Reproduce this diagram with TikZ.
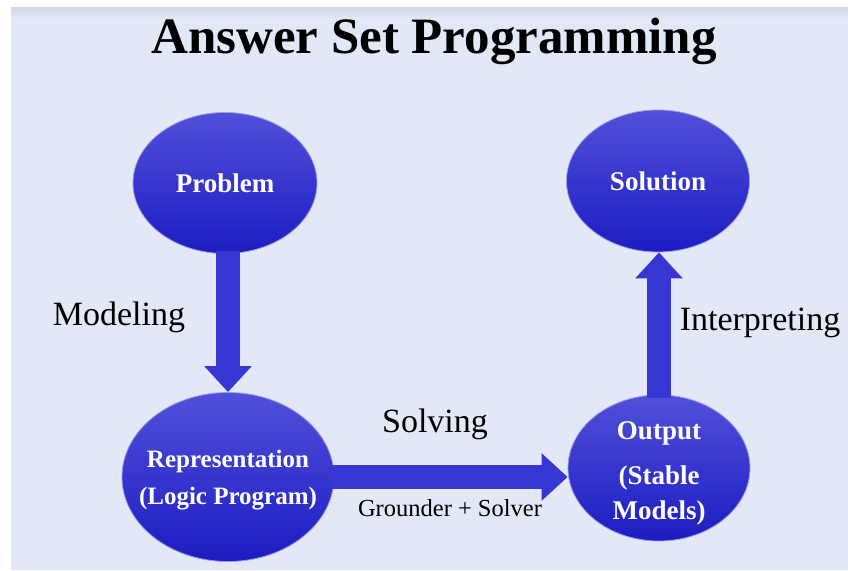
\documentclass[tikz,border=0pt]{standalone}
\usepackage{fontspec}
\setmainfont{Liberation Serif}
\usetikzlibrary{shapes.geometric,arrows.meta}

\definecolor{slidebg}{HTML}{E3E8F6}
\definecolor{slideshade}{HTML}{D3D7E4}
\definecolor{balltop}{HTML}{5050DA}
\definecolor{ballbottom}{HTML}{1C1CC2}
\definecolor{ballrim}{HTML}{9A9AEA}
\definecolor{flowblue}{HTML}{3636D2}

\begin{document}
\begin{tikzpicture}[x=1pt,y=-1pt,
    ball/.style={ellipse,inner sep=0pt,top color=balltop,bottom color=ballbottom,
        draw=ballrim,line width=0.8pt},
    balltext/.style={text=white,align=center,inner sep=0pt,
        font=\fontsize{27}{35}\selectfont\bfseries},
    flow/.style={draw=flowblue,line width=24pt,
        -{Triangle[width=46pt,length=26pt]}},
    lbl/.style={anchor=base,font=\fontsize{34}{40}\selectfont}]
    \useasboundingbox (0,0) rectangle (848,570);
    % slide background
    \fill[slidebg] (11,7) rectangle (848,570);
    \shade[top color=slideshade,bottom color=slidebg] (11,7) rectangle (848,18);
    \node[anchor=base,font=\fontsize{51}{60}\selectfont\bfseries] (title) at (434,53) {Answer Set Programming};
    % the four steps
    \node[ball,minimum width=184pt,minimum height=141pt,
        label={[balltext]center:Problem}] (problem) at (225,183) {};
    \node[ball,minimum width=183pt,minimum height=142pt,
        label={[balltext]center:Solution}] (solution) at (658,181) {};
    \node[ball,minimum width=212pt,minimum height=169pt,
        label={[balltext,yshift=-3pt,font=\fontsize{25}{37}\selectfont\bfseries]center:Representation\\(Logic Program)}]
        (repr) at (228,477) {};
    \node[ball,minimum width=182pt,minimum height=146pt,
        label={[balltext,yshift=-5pt]center:Output\\[10pt](Stable\\Models)}] (output) at (659,468) {};
    % arrows
    \draw[flow,shorten <=-3pt] (repr.north |- problem.south) -- (repr.north);
    \draw[flow,shorten <=-3pt] (repr.east) -- (repr.east -| output.west);
    \draw[flow,shorten <=-3pt] (output.north) -- (output.north |- solution.south);
    % labels
    \node[lbl] (modeling) at (119,325) {Modeling};
    \node[lbl] (interp) at (760,330) {Interpreting};
    \node[lbl] (solving) at (435,432) {Solving};
    \node[anchor=base,font=\fontsize{24.5}{30}\selectfont] (grounder) at (450,516) {Grounder + Solver};
\end{tikzpicture}
\end{document}
